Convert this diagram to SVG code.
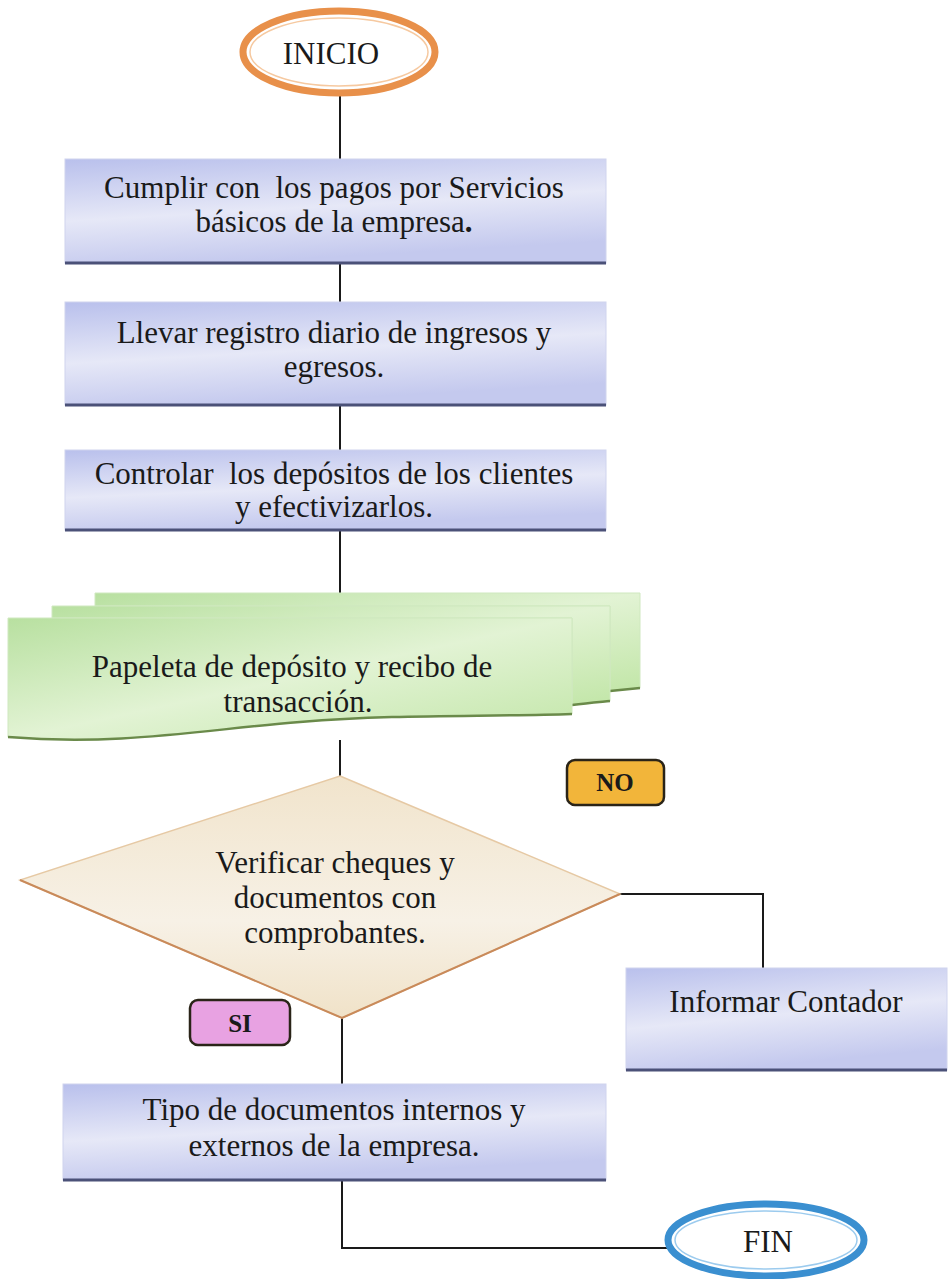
<svg xmlns="http://www.w3.org/2000/svg" width="949" height="1279" viewBox="0 0 949 1279">
<defs>
<linearGradient id="gBlue" x1="0" y1="0" x2="0.3" y2="1">
<stop offset="0" stop-color="#b9c0ec"/>
<stop offset="0.55" stop-color="#e6e8f7"/>
<stop offset="1" stop-color="#c4c9ee"/>
</linearGradient>
<linearGradient id="gGreen" x1="0" y1="0" x2="1" y2="1">
<stop offset="0" stop-color="#b8e0a0"/>
<stop offset="0.5" stop-color="#e2f3d4"/>
<stop offset="1" stop-color="#c2e6a8"/>
</linearGradient>
<linearGradient id="gBeige" x1="0" y1="0" x2="0" y2="1">
<stop offset="0" stop-color="#f1e4cc"/>
<stop offset="0.6" stop-color="#f7f1e6"/>
<stop offset="1" stop-color="#f0e2c8"/>
</linearGradient>
<style>
text{font-family:'Liberation Serif','Times New Roman','DejaVu Serif',serif;font-size:31px;fill:#1a1a1a;text-anchor:middle}
.b{font-weight:bold;font-size:25px}
.box{fill:url(#gBlue);stroke:#d0d4ee;stroke-width:1}
.shadow{stroke:#4b5178;stroke-width:3;fill:none}
.doc{fill:url(#gGreen);stroke:#cfe8bf;stroke-width:1}
.docs{stroke:#6a8a4a;stroke-width:2.5;fill:none}
.c{stroke:#1a1a1a;stroke-width:2;fill:none}
</style>
</defs>
<g id="connectors">
<line class="c" x1="340" y1="94" x2="340" y2="159"/>
<line class="c" x1="340" y1="263" x2="340" y2="302"/>
<line class="c" x1="340" y1="405" x2="340" y2="450"/>
<line class="c" x1="340" y1="530" x2="340" y2="593"/>
<line class="c" x1="340" y1="740" x2="340" y2="776"/>
<polyline class="c" points="620,894 763,894 763,968"/>
<line class="c" x1="342" y1="1018" x2="342" y2="1084"/>
<polyline class="c" points="342,1180 342,1248 668,1248"/>
</g>
<g id="inicio">
<ellipse cx="339" cy="52" rx="96" ry="41" fill="#fff" stroke="#e8904a" stroke-width="7"/>
<ellipse cx="339" cy="52" rx="89" ry="34" fill="none" stroke="#f6c9a0" stroke-width="1.5"/>
<text x="331" y="64" font-family="Liberation Serif, serif">INICIO</text>
</g>
<g id="n1">
<rect class="box" x="65" y="159" width="541" height="104"/>
<line class="shadow" x1="65" y1="263" x2="606" y2="263"/>
<text x="334" y="198" font-family="Liberation Serif, serif" xml:space="preserve">Cumplir con  los pagos por Servicios</text>
<text x="334" y="232" font-family="Liberation Serif, serif">básicos de la empresa<tspan font-weight="bold">.</tspan></text>
</g>
<g id="n2">
<rect class="box" x="65" y="302" width="541" height="103"/>
<line class="shadow" x1="65" y1="405" x2="606" y2="405"/>
<text x="334" y="343" font-family="Liberation Serif, serif">Llevar registro diario de ingresos y</text>
<text x="334" y="377" font-family="Liberation Serif, serif">egresos.</text>
</g>
<g id="n3">
<rect class="box" x="65" y="450" width="541" height="80"/>
<line class="shadow" x1="65" y1="530" x2="606" y2="530"/>
<text x="334" y="484" font-family="Liberation Serif, serif" xml:space="preserve">Controlar  los depósitos de los clientes</text>
<text x="334" y="517" font-family="Liberation Serif, serif">y efectivizarlos.</text>
</g>
<g id="n4">
<path class="doc" d="M95,593 L640,593 L640,688 C628,689 619,690 610,691 L610,606 L95,606 Z"/>
<path class="docs" d="M610,691 C620,690 630,689 640,688"/>
<path class="doc" d="M52,606 L610,606 L610,701 C598,702 586,703 572,705 L572,618 L52,618 Z"/>
<path class="docs" d="M572,705 C588,703 600,702 610,701"/>
<path class="doc" d="M8,618 L572,618 L572,714 C480,717 400,714 300,722 C200,730 120,746 8,737 Z"/>
<path class="docs" d="M8,737 C120,746 200,730 300,722 C400,714 480,717 572,714"/>
<text x="292" y="677" font-family="Liberation Serif, serif">Papeleta de depósito y recibo de</text>
<text x="298" y="712" font-family="Liberation Serif, serif">transacción.</text>
</g>
<g id="decision">
<polygon points="340,776 620,894 342,1018 20,880" fill="url(#gBeige)" stroke="#e6c9a4" stroke-width="1.5"/>
<polyline points="620,894 342,1018 20,880" fill="none" stroke="#c98a5a" stroke-width="2"/>
<text x="335" y="873" font-family="Liberation Serif, serif">Verificar cheques y</text>
<text x="335" y="908" font-family="Liberation Serif, serif">documentos con</text>
<text x="335" y="943" font-family="Liberation Serif, serif">comprobantes.</text>
</g>
<g id="no">
<rect x="567" y="760" width="97" height="45" rx="8" fill="#f2b53a" stroke="#2a2418" stroke-width="2.5"/>
<text class="b" x="615" y="791" font-family="Liberation Serif, serif">NO</text>
</g>
<g id="si">
<rect x="190" y="1000" width="100" height="45" rx="8" fill="#e8a2e2" stroke="#2a2418" stroke-width="2.5"/>
<text class="b" x="240" y="1032" font-family="Liberation Serif, serif">SI</text>
</g>
<g id="informar">
<rect class="box" x="626" y="968" width="321" height="102"/>
<line class="shadow" x1="626" y1="1070" x2="947" y2="1070"/>
<text x="786" y="1012" font-family="Liberation Serif, serif">Informar Contador</text>
</g>
<g id="n5">
<rect class="box" x="63" y="1084" width="543" height="96"/>
<line class="shadow" x1="63" y1="1180" x2="606" y2="1180"/>
<text x="334" y="1120" font-family="Liberation Serif, serif">Tipo de documentos internos y</text>
<text x="334" y="1156" font-family="Liberation Serif, serif">externos de la empresa.</text>
</g>
<g id="fin">
<ellipse cx="766" cy="1240" rx="98" ry="36" fill="#fff" stroke="#3a8fd0" stroke-width="7"/>
<ellipse cx="766" cy="1240" rx="91" ry="29" fill="none" stroke="#9ccbee" stroke-width="1.5"/>
<text x="768" y="1252" font-family="Liberation Serif, serif">FIN</text>
</g>
</svg>
